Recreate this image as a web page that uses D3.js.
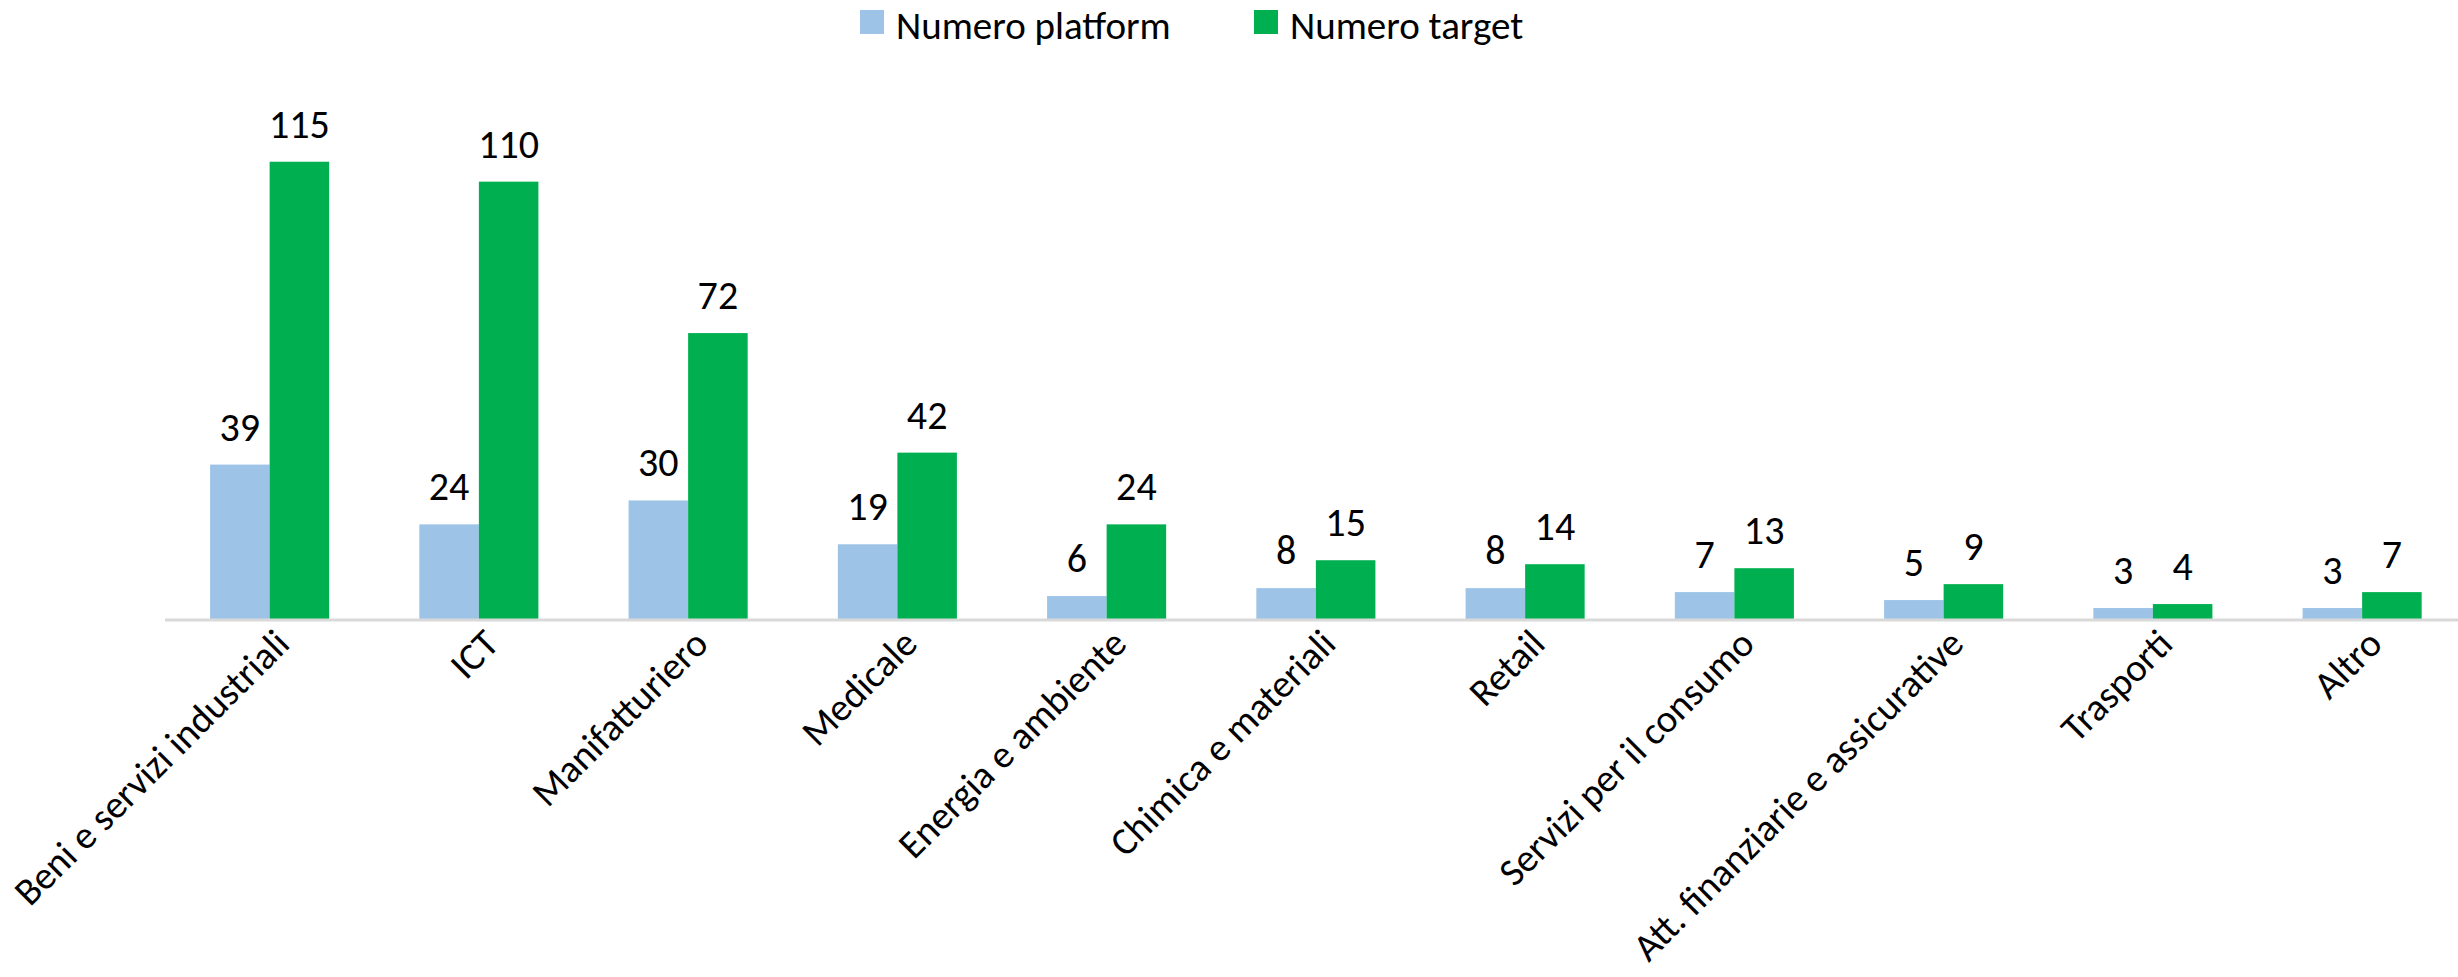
<!DOCTYPE html>
<html>
<head>
<meta charset="utf-8">
<script src="https://cdn.jsdelivr.net/npm/d3@7"></script>
<style>
  body { margin: 0; background: #fff; }
  text { font-family: Carlito, Calibri, Lato, sans-serif; fill: #000; }
</style>
</head>
<body>
<script>
const categories = ['Beni e servizi industriali', 'ICT', 'Manifatturiero', 'Medicale',
  'Energia e ambiente', 'Chimica e materiali', 'Retail', 'Servizi per il consumo',
  'Att. finanziarie e assicurative', 'Trasporti', 'Altro']
const platform = [39, 24, 30, 19, 6, 8, 8, 7, 5, 3, 3]
const target = [115, 110, 72, 42, 24, 15, 14, 13, 9, 4, 7]
const seriesNames = ['Numero platform', 'Numero target']
const colors = ['#9DC3E6', '#00B050']

const width = 2458, height = 977
const baseY = 620

const svg = d3.select('body')
  .append('svg')
  .attr('width', width)
  .attr('height', height)

const rows = categories.map((c, i) => ({cat: c, vals: [platform[i], target[i]]}))

/* scales */
const x = d3.scaleBand()
  .domain(categories)
  .range([165, 165 + 11 * 209.25])
  .paddingInner(0.431)
  .paddingOuter(0.2155)

const x1 = d3.scaleBand()
  .domain([0, 1])
  .range([0, x.bandwidth()])

const y = d3.scaleLinear()
  .domain([0, 140])
  .range([baseY, baseY - 140 * 3.985])

/* bars */
const groups = svg.selectAll('g.grp')
  .data(rows)
  .enter().append('g')
  .attr('class', 'grp')
  .attr('transform', d => `translate(${x(d.cat)},0)`)

groups.selectAll('rect')
  .data(d => d.vals)
  .enter().append('rect')
  .attr('x', (d, i) => x1(i))
  .attr('y', d => y(d))
  .attr('width', x1.bandwidth())
  .attr('height', d => baseY - y(d))
  .attr('fill', (d, i) => colors[i])

groups.selectAll('text.lbl')
  .data(d => d.vals)
  .enter().append('text')
  .attr('class', 'lbl')
  .attr('x', (d, i) => x1(i) + x1.bandwidth() / 2)
  .attr('y', d => y(d) - 24)
  .attr('text-anchor', 'middle')
  .style('font-size', '40px')
  .text(d => d)

/* x axis */
const xaxis = d3.axisBottom(x).tickSize(0).tickPadding(0)
const ax = svg.append('g')
  .attr('transform', `translate(0,${baseY})`)
  .call(xaxis)
ax.select('.domain').attr('stroke', '#D9D9D9').attr('stroke-width', 3)
  .attr('d', `M165,0H${width}`)
const tickText = ax.selectAll('.tick text')
  .style('font-size', '40px')
  .attr('font-family', null)
  .attr('text-anchor', 'end')
  .attr('dy', 0)
  .attr('y', 0)
  .attr('transform', 'translate(22,26) rotate(-45)')
// fit the fallback font to the width of the original labels
const firstLen = tickText.nodes()[0].getComputedTextLength()
const tickSize = Math.min(40, 40 * 370 / firstLen)
tickText.style('font-size', tickSize + 'px')

/* legend */
const legX = [860, 1254]
const leg = svg.selectAll('g.leg')
  .data(seriesNames)
  .enter().append('g')
  .attr('class', 'leg')
  .attr('transform', (d, i) => `translate(${legX[i]},0)`)
leg.append('rect')
  .attr('x', 0).attr('y', 10)
  .attr('width', 24).attr('height', 24)
  .attr('fill', (d, i) => colors[i])
leg.append('text')
  .attr('x', 36).attr('y', 39)
  .style('font-size', '39px')
  .text(d => d)
</script>
</body>
</html>
